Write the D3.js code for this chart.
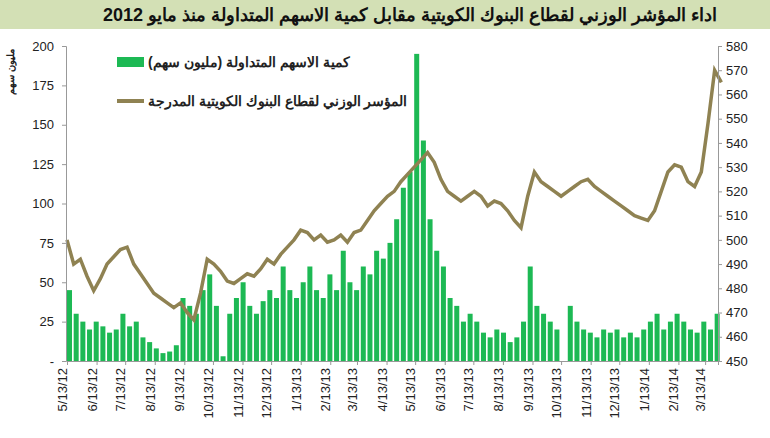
<!DOCTYPE html>
<html><head><meta charset="utf-8">
<script src="https://cdn.jsdelivr.net/npm/d3@7"></script>
<style>body{margin:0;background:#fff}svg{font-family:"Liberation Sans",Arial,sans-serif}</style>
</head><body><svg id="c" width="770" height="438"></svg>
<script>
const title = "اداء المؤشر الوزني لقطاع البنوك الكويتية مقابل كمية الاسهم المتداولة منذ مايو 2012";
const legendVolume = "كمية الاسهم المتداولة (مليون سهم)";
const legendIndex = "المؤسر الوزني لقطاع البنوك الكويتية المدرجة";
const leftAxisTitle = "مليون سهم";
const startDate = "2012-05-13";
const xTickLabels = ["5/13/12","6/13/12","7/13/12","8/13/12","9/13/12","10/13/12","11/13/12","12/13/12","1/13/13","2/13/13","3/13/13","4/13/13","5/13/13","6/13/13","7/13/13","8/13/13","9/13/13","10/13/13","11/13/13","12/13/13","1/13/14","2/13/14","3/13/14"];
const leftTicks = [0,25,50,75,100,125,150,175,200];
const rightTicks = [450,460,470,480,490,500,510,520,530,540,550,560,570,580];
// weekly values starting 5/13/12
const indexValues = [500,490,492, 485,479,484,490,493, 496,497,490,486, 482,478,476,474,472, 474,470,467,478, 492,490,487,483,482, 484,486,485,488, 492,490,494,497,500, 504,503,500,502, 499,500,502,499, 503,504,508,512, 515,518,520,524,527, 530,533,536,532, 525,520,518,516,518, 520,518,514,516, 515,512,508,505, 518,528,524,522, 520,518,520,522,524, 525,522,520,518, 516,514,512,510,509, 508,512,520,528, 531,530,524,522, 528,548,570,565];
const volumeValues = [45,30,25, 20,25,22,18,20, 30,22,25,15, 12,8,5,6,10, 40,35,30,45, 55,35,3,30,40, 50,35,30,38, 45,40,60,45,40, 50,60,45,40, 55,45,70,50, 45,60,55,70, 65,75,90,110,120, 195,140,90,70, 60,40,35,25,30, 25,18,15,20, 18,12,15,25, 60,35,30,25, 20,0,35,25,20, 18,15,20,18, 20,15,18,15,20, 25,30,20,25, 30,25,20,18, 25,20,30];

const svg = d3.select("#c");
svg.append("rect").attr("x",0).attr("y",0).attr("width",770).attr("height",29).attr("fill","#d3e0b5");
svg.append("text").attr("x",410).attr("y",21).attr("text-anchor","middle").attr("font-size",18).attr("font-weight","bold").attr("fill","#111").attr("direction","rtl").text(title);

const t0 = new Date(startDate+"T00:00:00");
const week = 7*864e5;
const dates = indexValues.map((d,i)=>new Date(+t0 + i*week));
const x = d3.scaleTime().domain([t0, new Date(+t0+97.5*week)]).range([67,718]);
const yL = d3.scaleLinear().domain([0,200]).range([361,46]);
const yR = d3.scaleLinear().domain([450,580]).range([361,46]);
const bw = x(new Date(+t0+week)) - x(t0);

svg.append("g").selectAll("rect").data(volumeValues).join("rect")
  .attr("x",(d,i)=>x(dates[i])).attr("width",bw*0.75)
  .attr("y",d=>yL(d)).attr("height",d=>yL(0)-yL(d)).attr("fill","#1db954");

svg.append("path").datum(indexValues).attr("fill","none").attr("stroke","#8f8252").attr("stroke-width",3.5)
  .attr("d",d3.line().x((d,i)=>x(dates[i])).y(d=>yR(d)));

const gl = svg.append("g").attr("transform","translate(66,0)")
  .call(d3.axisLeft(yL).tickValues(leftTicks).tickSize(4).tickFormat(d=>d===0?"-":d));
const gr = svg.append("g").attr("transform","translate(718,0)")
  .call(d3.axisRight(yR).tickValues(rightTicks).tickSize(4));
const parse = d3.timeParse("%m/%d/%y");
const gx = svg.append("g").attr("transform","translate(0,361)")
  .call(d3.axisBottom(x).tickValues(xTickLabels.map(parse)).tickSize(4).tickFormat(d3.timeFormat("%-m/%-d/%y")));
[gl,gr,gx].forEach(g=>{g.selectAll("path,line").attr("stroke","#999");g.selectAll("text").attr("font-size",13).attr("fill","#222");});
gl.selectAll("text").attr("x",-12);
gr.selectAll("text").attr("x",8);
gx.selectAll("text").attr("transform","rotate(-90)").attr("text-anchor","end").attr("x",-7).attr("y",-5).attr("dy","0.35em");

svg.append("text").attr("transform","translate(14,72) rotate(-90)").attr("text-anchor","middle").attr("font-size",10).attr("font-weight","bold").attr("fill","#222").text(leftAxisTitle);

svg.append("rect").attr("x",117).attr("y",57).attr("width",27).attr("height",10).attr("fill","#1db954");
svg.append("text").attr("x",148).attr("y",67).attr("font-size",14).attr("font-weight","bold").attr("fill","#222").text(legendVolume);
svg.append("line").attr("x1",117).attr("x2",144).attr("y1",101).attr("y2",101).attr("stroke","#8f8252").attr("stroke-width",4);
svg.append("text").attr("x",148).attr("y",106).attr("font-size",14).attr("font-weight","bold").attr("fill","#222").text(legendIndex);
</script></body></html>
